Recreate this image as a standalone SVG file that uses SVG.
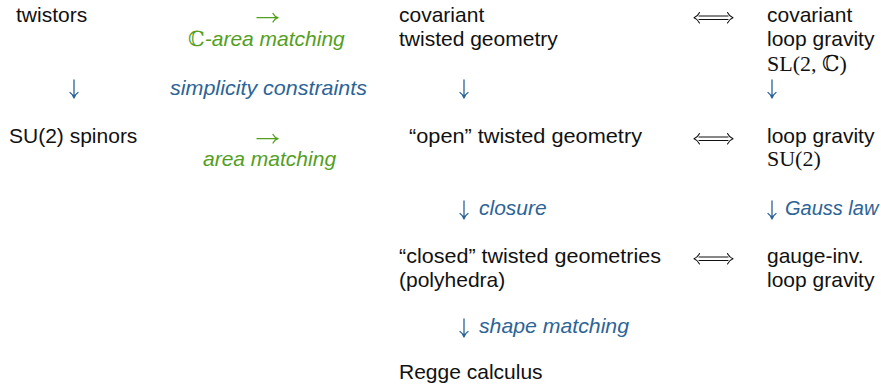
<svg xmlns="http://www.w3.org/2000/svg" width="881" height="384" viewBox="0 0 881 384">
  <style>
    text { font-family: "Liberation Sans", Arial, sans-serif; font-size: 21px; fill: #111; }
    .math { font-family: "Liberation Serif", "DejaVu Serif", serif; font-size: 22px; }
    .ds { font-family: "DejaVu Serif", serif; font-style: normal; }
    .green { fill: #54a01e; font-style: italic; }
    .blue { fill: #2d6496; font-style: italic; }
    .arr { fill: none; stroke-linecap: round; stroke-linejoin: round; }
    .a-blue { stroke: #2d6496; stroke-width: 1.3; }
    .a-green { stroke: #54a01e; stroke-width: 1.3; }
    .a-black { stroke: #111; stroke-width: 1.1; }
  </style>
  <defs>
    <!-- downward arrow, origin at top of shaft, 18px long -->
    <path id="down" d="M0,0 V17.5 M-4,12.5 Q-1,14.5 0,18 Q1,14.5 4,12.5"/>
  </defs>

  <!-- first column -->
  <g id="twistors"><text x="16" y="22">twistors</text></g>
  <g id="su2-spinors"><text x="9" y="143">SU(2) spinors</text></g>

  <!-- middle column labels -->
  <g id="c-area-matching"><text x="188" y="46" class="green"><tspan class="ds">ℂ</tspan>-area matching</text></g>
  <g id="simplicity-constraints"><text x="170" y="95" class="blue" textLength="197" lengthAdjust="spacingAndGlyphs">simplicity constraints</text></g>
  <g id="area-matching"><text x="203" y="166" class="green">area matching</text></g>

  <!-- twisted geometry column -->
  <g id="covariant-twisted-geometry">
    <text x="399" y="22">covariant</text>
    <text x="399" y="46">twisted geometry</text>
  </g>
  <g id="open-twisted-geometry"><text x="409" y="143" textLength="233" lengthAdjust="spacingAndGlyphs">“open” twisted geometry</text></g>
  <g id="closed-twisted-geometries">
    <text x="399" y="263" textLength="262" lengthAdjust="spacingAndGlyphs">“closed” twisted geometries</text>
    <text x="399" y="287">(polyhedra)</text>
  </g>
  <g id="regge-calculus"><text x="399" y="379">Regge calculus</text></g>

  <!-- loop gravity column -->
  <g id="covariant-loop-gravity">
    <text x="767" y="22">covariant</text>
    <text x="767" y="46">loop gravity</text>
    <text x="767" y="71" class="math">SL(2, <tspan class="ds">ℂ</tspan>)</text>
  </g>
  <g id="loop-gravity-su2">
    <text x="767" y="143">loop gravity</text>
    <text x="767" y="166" class="math">SU(2)</text>
  </g>
  <g id="gauge-inv-loop-gravity">
    <text x="767" y="263">gauge-inv.</text>
    <text x="767" y="287">loop gravity</text>
  </g>

  <!-- arrow labels -->
  <g id="arrow-labels">
    <text x="479" y="215" class="blue">closure</text>
    <text x="785" y="215" class="blue" style="font-size:20px">Gauss law</text>
    <text x="479" y="333" class="blue" textLength="150" lengthAdjust="spacingAndGlyphs">shape matching</text>
  </g>

  <g id="connectors">
    <!-- horizontal maps -->
    <path class="arr a-green" d="M257,17.7 H277.5 M273,13.5 Q274.5,16.5 278,17.7 Q274.5,19 273,22"/>
    <path class="arr a-green" d="M257,138.7 H277.5 M273,134.5 Q274.5,137.5 278,138.7 Q274.5,140 273,143"/>

    <!-- equivalences -->
    <g class="arr a-black">
      <path d="M699,16 H728 M699,19.5 H728 M699.5,12.5 Q697.5,16.5 694,17.75 Q697.5,19 699.5,23 M727.5,12.5 Q729.5,16.5 733,17.75 Q729.5,19 727.5,23"/>
      <path d="M699,137 H728 M699,140.5 H728 M699.5,133.5 Q697.5,137.5 694,138.75 Q697.5,140 699.5,144 M727.5,133.5 Q729.5,137.5 733,138.75 Q729.5,140 727.5,144"/>
      <path d="M699,257 H728 M699,260.5 H728 M699.5,253.5 Q697.5,257.5 694,258.75 Q697.5,260 699.5,264 M727.5,253.5 Q729.5,257.5 733,258.75 Q729.5,260 727.5,264"/>
    </g>

    <!-- downward maps -->
    <g class="arr a-blue">
      <use href="#down" x="74" y="80"/>
      <use href="#down" x="464" y="80"/>
      <use href="#down" x="772" y="80"/>
      <use href="#down" x="464" y="201"/>
      <use href="#down" x="772" y="201"/>
      <use href="#down" x="464" y="319"/>
    </g>
  </g>
</svg>
